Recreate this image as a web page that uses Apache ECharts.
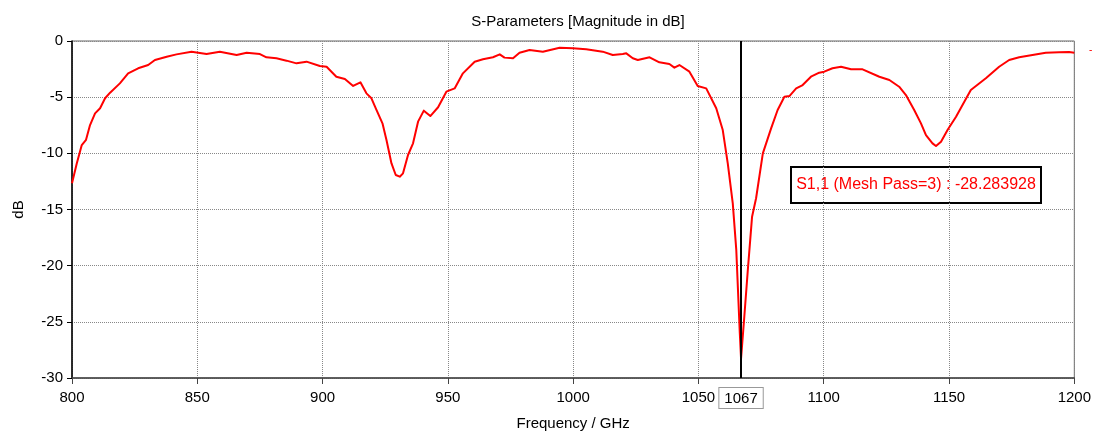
<!DOCTYPE html>
<html>
<head>
<meta charset="utf-8">
<script src="https://cdn.jsdelivr.net/npm/echarts@6/dist/echarts.min.js"></script>
<style>html,body{margin:0;padding:0;background:#fff;}#c{width:1094px;height:436px;}</style>
</head>
<body>
<div id="c"></div>
<script>
const titleText = 'S-Parameters [Magnitude in dB]';
const xName = 'Frequency / GHz';
const yName = 'dB';
const markerFreq = 1067;
const markerText = 'S1,1 (Mesh Pass=3) : -28.283928';

const freq = [800, 801.9, 803.9, 805.6, 807.2, 809.2, 811.2, 813.2, 815.2, 819.1, 822.4, 826.4, 830.4, 833.1, 837.8, 841.7, 847.7, 853.7, 859, 865.7, 869.7, 875, 877.6, 881.6, 885.6, 889.6, 893.6, 898.9, 901.6, 905.5, 908.9, 912.2, 915.1, 917.5, 919.5, 921.5, 923.9, 925.5, 927.5, 929.2, 930.8, 932.1, 934.1, 936.1, 938.1, 940.4, 943, 946.1, 949.4, 952.7, 956, 960.7, 964, 968, 970.7, 972.6, 976, 978.6, 982.6, 987.9, 994.6, 999.9, 1005.2, 1011.8, 1015.8, 1019.8, 1021.2, 1023.8, 1025.8, 1030.5, 1034.4, 1038.4, 1040.4, 1042.4, 1046.4, 1049.7, 1053.1, 1057.1, 1059.7, 1061.7, 1063.7, 1065.1, 1066, 1066.5, 1067, 1068.3, 1069.7, 1071.4, 1073, 1075.7, 1079, 1081.6, 1084.3, 1086.3, 1089, 1091.6, 1094.9, 1098.2, 1100.2, 1103.5, 1106.9, 1110.9, 1115.5, 1122.2, 1126.2, 1130.1, 1132.8, 1136.1, 1138.8, 1140.8, 1143.4, 1144.8, 1146.8, 1149.4, 1152.8, 1156.1, 1158.7, 1164.7, 1170, 1174, 1178, 1183.3, 1188.6, 1193.9, 1197.9, 1200];
const s11 = [-12.67, -10.9, -9.26, -8.8, -7.48, -6.44, -5.99, -5.1, -4.6, -3.77, -2.88, -2.43, -2.14, -1.69, -1.4, -1.19, -0.95, -1.16, -0.95, -1.25, -1.04, -1.16, -1.45, -1.54, -1.75, -1.99, -1.84, -2.23, -2.29, -3.18, -3.38, -4.0, -3.68, -4.66, -5.1, -6.14, -7.33, -8.82, -10.9, -11.93, -12.08, -11.78, -10.15, -9.11, -7.18, -6.2, -6.68, -5.9, -4.51, -4.22, -2.88, -1.84, -1.63, -1.45, -1.19, -1.48, -1.54, -1.04, -0.8, -0.95, -0.6, -0.65, -0.74, -0.95, -1.25, -1.16, -1.1, -1.54, -1.69, -1.45, -1.9, -2.05, -2.37, -2.14, -2.73, -4.0, -4.22, -5.99, -7.93, -10.9, -14.45, -18.6, -23.36, -26.0, -28.28, -24.55, -20.4, -15.64, -14.0, -10.0, -7.78, -6.14, -4.96, -4.9, -4.22, -3.92, -3.18, -2.82, -2.73, -2.43, -2.29, -2.52, -2.52, -3.18, -3.47, -4.07, -4.81, -6.14, -7.33, -8.37, -9.11, -9.35, -8.96, -7.93, -6.74, -5.4, -4.36, -3.32, -2.29, -1.69, -1.45, -1.25, -1.04, -1.0, -0.98, -1.04];

const FONT = 'Liberation Sans';
const chart = echarts.init(document.getElementById('c'), null, {renderer: 'canvas'});
chart.setOption({
  animation: false,
  backgroundColor: '#fff',
  title: {
    text: titleText, left: 573, top: 9, textAlign: 'center',
    textStyle: {fontFamily: FONT, fontSize: 15, fontWeight: 'normal', color: '#000'}
  },
  grid: {left: 72, right: 19, top: 41, bottom: 58, show: true, borderColor: '#666', borderWidth: 1, backgroundColor: '#fff'},
  xAxis: {
    type: 'value', min: 800, max: 1200, interval: 50,
    name: xName, nameLocation: 'middle', nameGap: 38,
    nameTextStyle: {fontFamily: FONT, fontSize: 15, color: '#000'},
    axisLine: {show: true, onZero: false, lineStyle: {color: '#444', width: 1.5}},
    axisTick: {show: true, length: 6, inside: false, lineStyle: {color: '#444'}},
    axisLabel: {fontFamily: FONT, fontSize: 15, color: '#000', margin: 12, formatter: v => String(v)},
    splitLine: {show: true, lineStyle: {color: '#888', type: 'dotted', width: 1}}
  },
  yAxis: {
    type: 'value', min: -30, max: 0, interval: 5,
    name: yName, nameLocation: 'middle', nameGap: 46, nameRotate: 90,
    nameTextStyle: {fontFamily: FONT, fontSize: 15, color: '#000'},
    axisLine: {show: true, onZero: false, lineStyle: {color: '#000', width: 1.5}},
    axisTick: {show: true, length: 5, lineStyle: {color: '#000'}},
    axisLabel: {fontFamily: FONT, fontSize: 15, color: '#000', margin: 9, formatter: v => String(v)},
    splitLine: {show: true, lineStyle: {color: '#888', type: 'dotted', width: 1}}
  },
  series: [{
    type: 'line',
    data: freq.map((f, i) => [f, s11[i]]),
    showSymbol: false, symbol: 'none',
    lineStyle: {color: '#ff0000', width: 2, join: 'round'},
    itemStyle: {color: '#ff0000'},
    markLine: {
      silent: true, symbol: ['none', 'none'],
      lineStyle: {color: '#000', width: 2, type: 'solid'},
      label: {
        show: true, position: 'start', distance: 10,
        formatter: String(markerFreq),
        fontFamily: FONT, fontSize: 15, color: '#000',
        backgroundColor: '#fff', borderColor: '#999', borderWidth: 1, padding: [3, 5, 2, 5]
      },
      data: [{xAxis: markerFreq}]
    }
  }],
  graphic: [
    {
      type: 'group', left: 790, top: 166, z: 100,
      children: [
        {type: 'rect', shape: {x: 0, y: 0, width: 250, height: 36}, style: {fill: '#fff', stroke: '#000', lineWidth: 2}},
        {type: 'text', x: 125, y: 18, style: {text: markerText, fill: '#ff0000', font: '16px "Liberation Sans"', align: 'center', verticalAlign: 'middle'}}
      ]
    },
    {type: 'text', left: 1089, top: 45, style: {text: '-', fill: '#ff0000', font: '10px "Liberation Sans"'}}
  ]
});
</script>
</body>
</html>
